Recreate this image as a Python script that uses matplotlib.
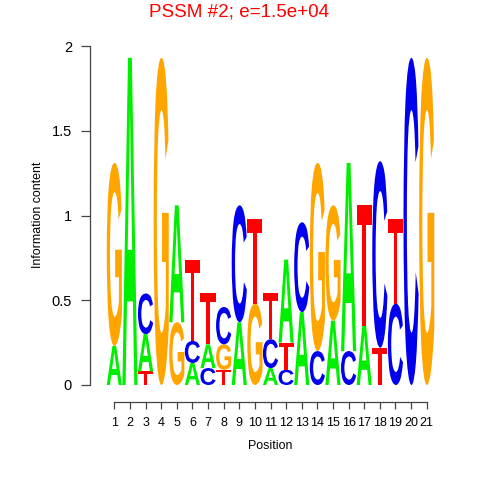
import matplotlib
matplotlib.use("Agg")
import matplotlib.pyplot as plt
from matplotlib.textpath import TextPath
from matplotlib.font_manager import FontProperties
from matplotlib.patches import PathPatch
from matplotlib.transforms import Affine2D

positions = list(range(1, 22))
A = [0.23, 1.93, 0.22, 0.00, 0.69, 0.13, 0.14, 0.00, 0.37, 0.00, 0.10, 0.49, 0.43, 0.00, 0.38, 1.11, 0.35, 0.00, 0.00, 0.00, 0.00]
C = [0.00, 0.00, 0.24, 0.00, 0.00, 0.13, 0.10, 0.22, 0.69, 0.00, 0.17, 0.09, 0.53, 0.20, 0.00, 0.20, 0.00, 1.10, 0.48, 1.93, 0.00]
G = [1.08, 0.00, 0.00, 1.93, 0.37, 0.00, 0.00, 0.15, 0.00, 0.48, 0.00, 0.00, 0.00, 1.11, 0.68, 0.00, 0.00, 0.00, 0.00, 0.00, 1.93]
T = [0.00, 0.00, 0.08, 0.00, 0.00, 0.48, 0.30, 0.09, 0.00, 0.50, 0.27, 0.16, 0.00, 0.00, 0.00, 0.00, 0.71, 0.22, 0.50, 0.00, 0.00]
yticks = [0, 0.5, 1, 1.5, 2]
ytick_labels = ["0", "0.5", "1", "1.5", "2"]
colors = {"A": "#00EE00", "C": "#0000EE", "G": "#FFA500", "T": "#FF0000"}
title = "PSSM #2; e=1.5e+04"

W, H = 480, 480
fig = plt.figure(figsize=(W / 100, H / 100), dpi=100)
left_px, right_px = 106.5, 434.5
bot_px, top_px = 385, 46
ax = fig.add_axes([left_px / W, 1 - bot_px / H, (right_px - left_px) / W, (bot_px - top_px) / H])
ax.set_xlim(0.5, 21.5)
ax.set_ylim(0, 2)

fp = FontProperties(family="Liberation Sans", weight="bold")
heights = {"A": A, "C": C, "G": G, "T": T}
width = 0.97
for i, pos in enumerate(positions):
    stack = [(heights[L][i], L) for L in "ACGT" if heights[L][i] > 0]
    stack.sort(key=lambda t: t[0])
    y0 = 0.0
    for h, L in stack:
        tp = TextPath((0, 0), L, size=1, prop=fp)
        bb = tp.get_extents()
        tr = (Affine2D().translate(-bb.x0, -bb.y0)
              .scale(width / bb.width, h / bb.height)
              .translate(pos - width / 2, y0))
        path = tr.transform_path(tp)
        ax.add_patch(PathPatch(path, facecolor=colors[L], edgecolor="none",
                               transform=ax.transData, clip_on=False))
        y0 += h

for s in ["top", "right"]:
    ax.spines[s].set_visible(False)
ax.spines["left"].set_position(("outward", 16.5 * 0.72))
ax.spines["left"].set_bounds(0, 2)
ax.spines["bottom"].set_position(("outward", 16.5 * 0.72))
ax.spines["bottom"].set_bounds(1, 21)
for s in ["left", "bottom"]:
    ax.spines[s].set_color("#444444")
    ax.spines[s].set_linewidth(0.9)

ax.set_yticks(yticks)
ax.set_yticklabels(ytick_labels, fontsize=10.5, family="Liberation Sans")
ax.set_xticks(positions)
ax.set_xticklabels([str(p) for p in positions], fontsize=9, family="Liberation Sans")
ax.tick_params(axis="y", length=6.5, pad=6.5, color="#444444", width=0.9)
ax.tick_params(axis="x", length=5, pad=6.5, color="#444444", width=0.9)

fig.text(270.5 / W, 1 - 446 / H, "Position", ha="center", va="center",
         fontsize=8.9, family="Liberation Sans")
fig.text(38 / W, 1 - 215 / H, "Information content", ha="center", va="center",
         rotation=90, fontsize=8.9, family="Liberation Sans")
fig.text(239 / W, 1 - 12 / H, title, ha="center", va="center",
         fontsize=13.6, color="#FF0000", family="Liberation Sans")

fig.savefig("out.png", dpi=100)
